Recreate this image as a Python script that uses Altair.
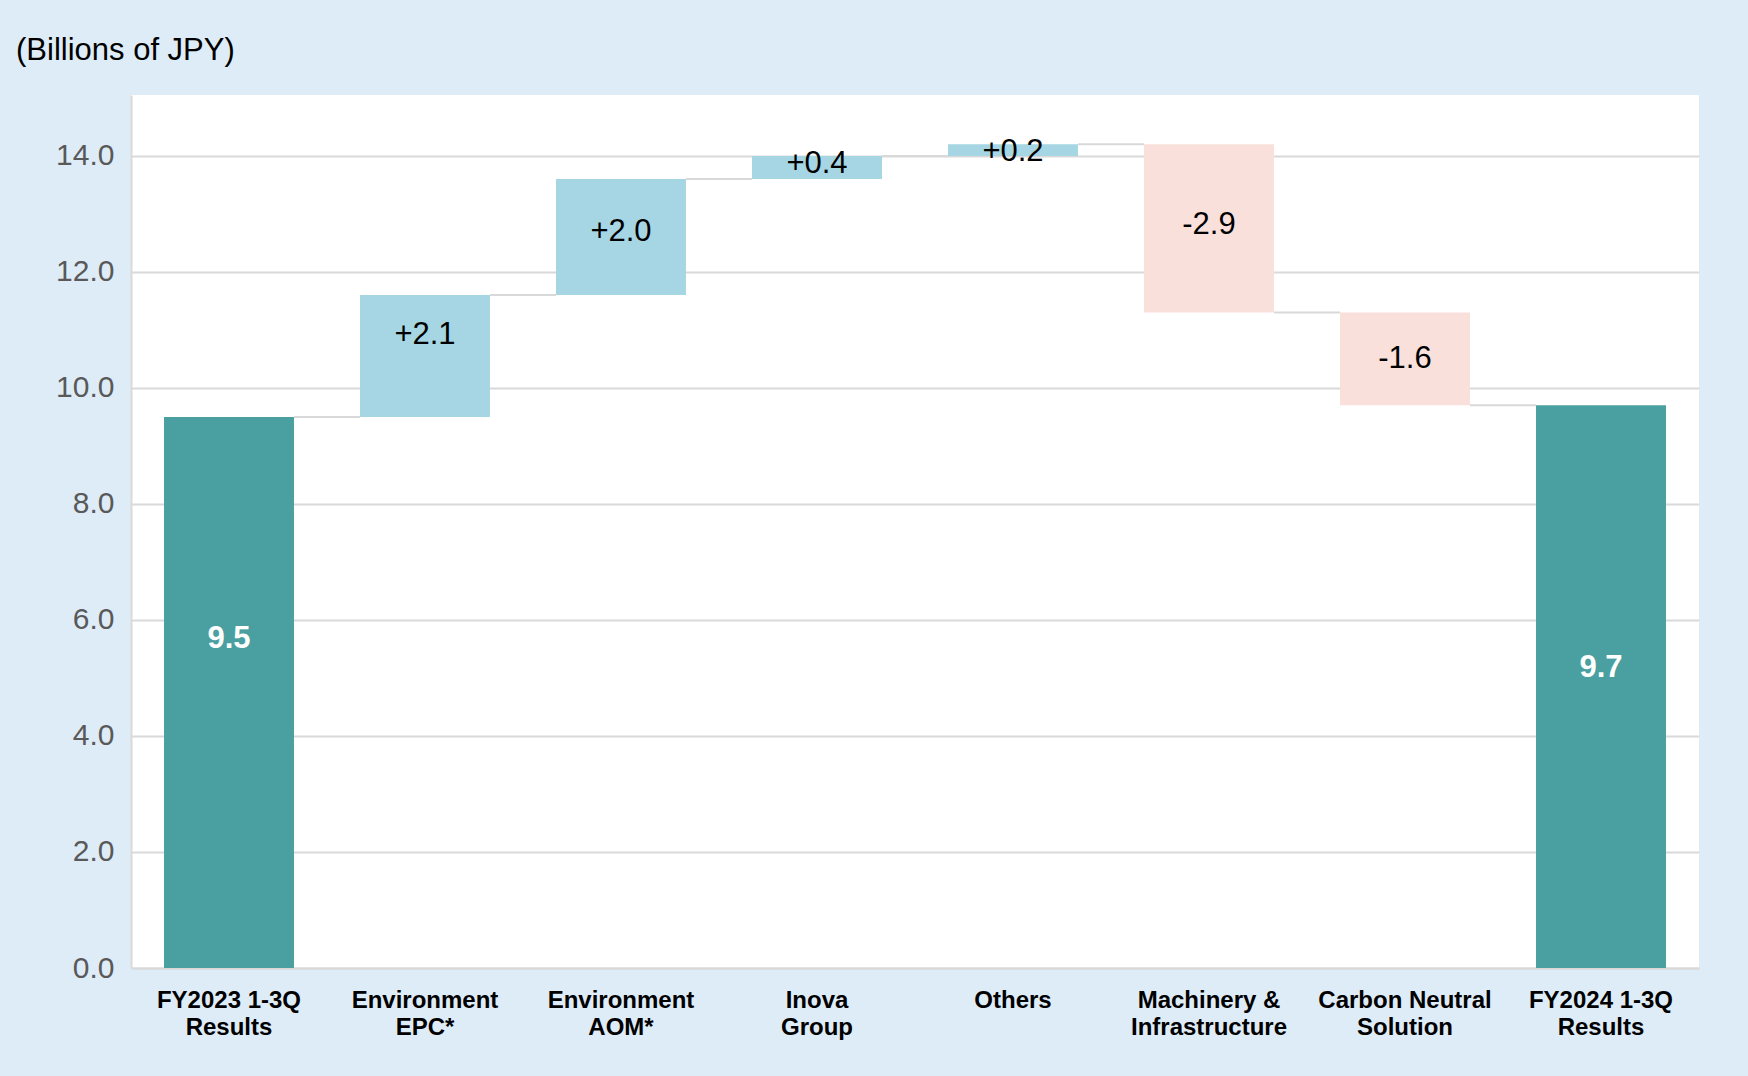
import altair as alt
import pandas as pd

# ---- data ----
categories = [
    "FY2023 1-3Q\nResults",
    "Environment\nEPC*",
    "Environment\nAOM*",
    "Inova\nGroup",
    "Others",
    "Machinery &\nInfrastructure",
    "Carbon Neutral\nSolution",
    "FY2024 1-3Q\nResults",
]
kinds = ["total", "up", "up", "up", "up", "down", "down", "total"]
amounts = [9.5, 2.1, 2.0, 0.4, 0.2, -2.9, -1.6, 9.7]
labels = ["9.5", "+2.1", "+2.0", "+0.4", "+0.2", "-2.9", "-1.6", "9.7"]
label_anchor = [5.68, 10.92, 12.69, 13.86, 14.06, 12.81, 10.5, 5.18]
y_ticks = [0, 2, 4, 6, 8, 10, 12, 14]

# ---- build waterfall table ----
rows = []
running = 0.0
for cat, kind, amt, lab, la in zip(categories, kinds, amounts, labels, label_anchor):
    if kind == "total":
        start, end = 0.0, amt
        running = amt
    else:
        start, end = running, running + amt
        running = end
    rows.append(dict(cat=cat, kind=kind, start=round(start, 2), end=round(end, 2),
                     label=lab, label_y=la))
df = pd.DataFrame(rows)

conn = pd.DataFrame([
    dict(cat=df.loc[i, "cat"], nxt=df.loc[i + 1, "cat"], level=df.loc[i, "end"])
    for i in range(len(df) - 1)
])

BG = "#DEECF8"
GRID = "#D9D9D9"
FONT = "Liberation Sans"
BAND = 0.663

xscale = alt.Scale(domain=categories, paddingInner=0, paddingOuter=0)
yscale = alt.Scale(domain=[0, 15.05], nice=False, zero=True)

base = alt.Chart(df)

xaxis = alt.Axis(labelExpr="split(datum.label, '\\n')", labelAngle=0, labelAlign="center",
                 labelFont=FONT, labelFontSize=24, labelFontWeight="bold",
                 labelColor="#000000", labelPadding=20, labelLineHeight=27,
                 ticks=False, domainColor=GRID, domainWidth=2, grid=False,
                 labelBaseline="top")

bars = base.mark_bar(width={"band": BAND}).encode(
    x=alt.X("cat:N", scale=xscale, sort=categories, title=None, axis=xaxis),
    y=alt.Y("start:Q", scale=yscale, title=None,
            axis=alt.Axis(values=y_ticks, format=".1f", labelFont=FONT, labelFontSize=30,
                          labelColor="#595959", labelPadding=17, ticks=False,
                          domainColor=GRID, domainWidth=2, gridColor=GRID, gridWidth=2)),
    y2="end:Q",
    color=alt.Color("kind:N", legend=None,
                    scale=alt.Scale(domain=["total", "up", "down"],
                                    range=["#4A9FA0", "#A6D6E3", "#F9E0DB"])),
)

connectors = alt.Chart(conn).mark_rule(color=GRID, strokeWidth=2).encode(
    x=alt.X("cat:N", scale=xscale, sort=categories, bandPosition=0.5 + BAND / 2, axis=xaxis,
            title=None),
    x2=alt.X2("nxt:N", bandPosition=0.5 - BAND / 2),
    y=alt.Y("level:Q", scale=yscale),
)

delta_text = base.transform_filter("datum.kind != 'total'").mark_text(
    font=FONT, fontSize=31, color="#000000", baseline="middle", align="center"
).encode(
    x=alt.X("cat:N", scale=xscale, sort=categories, bandPosition=0.5),
    y=alt.Y("label_y:Q", scale=yscale),
    text="label:N",
)

total_text = base.transform_filter("datum.kind == 'total'").mark_text(
    font=FONT, fontSize=31, fontWeight="bold", color="#FFFFFF", baseline="middle",
    align="center"
).encode(
    x=alt.X("cat:N", scale=xscale, sort=categories, bandPosition=0.5),
    y=alt.Y("label_y:Q", scale=yscale),
    text="label:N",
)

unit_title = alt.Chart(pd.DataFrame({"t": ["(Billions of JPY)"]})).mark_text(
    font=FONT, fontSize=31, color="#000000", align="left", baseline="middle"
).encode(x=alt.value(-115), y=alt.value(-44), text="t:N")

chart = alt.layer(bars, connectors, delta_text, total_text, unit_title).properties(
    width=1568,
    height=873,
    background=BG,
    padding={"left": 131, "top": 95, "right": 49, "bottom": 108},
    autosize=alt.AutoSizeParams(type="none"),
).configure_view(fill="#FFFFFF", stroke=None).configure_axisX(labelAlign="center")

chart.save("out.html", embed_options={"renderer": "svg", "actions": False})
